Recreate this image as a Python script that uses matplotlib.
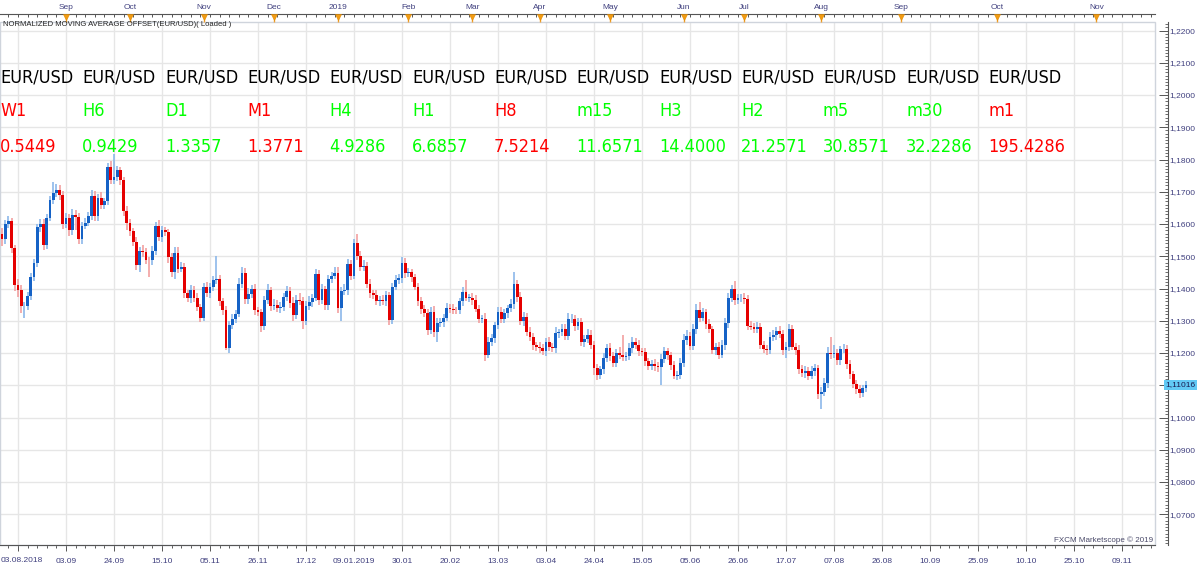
import matplotlib
matplotlib.use('Agg')
import matplotlib.pyplot as plt
import matplotlib.transforms as mtransforms
from matplotlib.patches import Rectangle
from matplotlib.ticker import MultipleLocator, FuncFormatter
import numpy as np

plt.rcParams['font.family'] = ['Liberation Sans', 'DejaVu Sans']

# EUR/USD daily bars 03.08.2018 .. 21.08.2019, one bar per trading day
first_open = 1.1595
closes = [
    1.1568, 1.1552, 1.1599, 1.1608, 1.1526, 1.1410, 1.1395, 1.1345, 1.1346, 1.1376,
    1.1437, 1.1478, 1.1590, 1.1600, 1.1535, 1.1620, 1.1676, 1.1695, 1.1707, 1.1690,
    1.1600, 1.1618, 1.1580, 1.1628, 1.1622, 1.1552, 1.1595, 1.1604, 1.1625, 1.1688,
    1.1624, 1.1680, 1.1660, 1.1670, 1.1776, 1.1735, 1.1746, 1.1766, 1.1735, 1.1640,
    1.1602, 1.1577, 1.1545, 1.1472, 1.1516, 1.1512, 1.1488, 1.1487, 1.1516, 1.1593,
    1.1560, 1.1580, 1.1575, 1.1497, 1.1450, 1.1510, 1.1462, 1.1466, 1.1385, 1.1370,
    1.1395, 1.1372, 1.1342, 1.1310, 1.1404, 1.1385, 1.1405, 1.1425, 1.1430, 1.1360,
    1.1332, 1.1215, 1.1286, 1.1306, 1.1322, 1.1415, 1.1448, 1.1367, 1.1384, 1.1399,
    1.1332, 1.1326, 1.1285, 1.1363, 1.1394, 1.1346, 1.1350, 1.1340, 1.1343, 1.1373,
    1.1392, 1.1355, 1.1318, 1.1365, 1.1362, 1.1300, 1.1345, 1.1358, 1.1372, 1.1444,
    1.1365, 1.1397, 1.1348, 1.1428, 1.1438, 1.1448, 1.1340, 1.1392, 1.1395, 1.1476,
    1.1440, 1.1540, 1.1500, 1.1468, 1.1470, 1.1414, 1.1386, 1.1380, 1.1360, 1.1364,
    1.1360, 1.1380, 1.1302, 1.1404, 1.1426, 1.1432, 1.1478, 1.1447, 1.1450, 1.1436,
    1.1406, 1.1360, 1.1335, 1.1325, 1.1272, 1.1326, 1.1265, 1.1293, 1.1296, 1.1310,
    1.1340, 1.1338, 1.1334, 1.1332, 1.1360, 1.1390, 1.1372, 1.1372, 1.1365, 1.1338,
    1.1307, 1.1307, 1.1195, 1.1235, 1.1246, 1.1287, 1.1328, 1.1306, 1.1325, 1.1340,
    1.1352, 1.1415, 1.1373, 1.1300, 1.1312, 1.1266, 1.1250, 1.1225, 1.1218, 1.1215,
    1.1206, 1.1235, 1.1220, 1.1216, 1.1262, 1.1264, 1.1275, 1.1254, 1.1304, 1.1305,
    1.1284, 1.1295, 1.1235, 1.1245, 1.1255, 1.1225, 1.1152, 1.1132, 1.1150, 1.1185,
    1.1215, 1.1190, 1.1170, 1.1200, 1.1195, 1.1188, 1.1190, 1.1215, 1.1235, 1.1225,
    1.1205, 1.1203, 1.1175, 1.1160, 1.1165, 1.1160, 1.1156, 1.1182, 1.1205, 1.1193,
    1.1162, 1.1130, 1.1132, 1.1170, 1.1240, 1.1252, 1.1222, 1.1275, 1.1334, 1.1310,
    1.1326, 1.1290, 1.1275, 1.1210, 1.1220, 1.1195, 1.1225, 1.1292, 1.1370, 1.1398,
    1.1365, 1.1370, 1.1372, 1.1368, 1.1285, 1.1282, 1.1276, 1.1282, 1.1225, 1.1214,
    1.1208, 1.1251, 1.1255, 1.1268, 1.1258, 1.1210, 1.1220, 1.1276, 1.1220, 1.1210,
    1.1150, 1.1138, 1.1145, 1.1130, 1.1145, 1.1152, 1.1072, 1.1080, 1.1108, 1.1201,
    1.1196, 1.1200, 1.1177, 1.1211, 1.1214, 1.1165, 1.1134, 1.1104, 1.1088, 1.1076,
    1.1090, 1.1102,
]
# wick lengths above / below the body, in pips
wick_up = [
    15, 20, 12, 18, 12, 10, 20, 15, 12, 14,
    12, 15, 10, 16, 15, 10, 12, 35, 18, 15,
    12, 15, 14, 18, 15, 12, 10, 14, 12, 16,
    15, 12, 18, 10, 12, 20, 70, 15, 12, 10,
    15, 12, 10, 14, 12, 20, 15, 10, 15, 12,
    20, 15, 12, 10, 14, 18, 20, 15, 12, 10,
    15, 12, 14, 10, 12, 15, 12, 14, 70, 12,
    10, 15, 12, 14, 10, 18, 20, 15, 18, 12,
    14, 10, 12, 15, 20, 12, 18, 14, 15, 12,
    16, 12, 18, 14, 22, 12, 15, 20, 12, 15,
    14, 18, 12, 15, 12, 20, 18, 14, 20, 15,
    12, 15, 30, 15, 18, 12, 15, 10, 14, 12,
    15, 12, 10, 14, 15, 12, 20, 18, 15, 12,
    10, 12, 14, 15, 10, 18, 20, 15, 12, 10,
    15, 12, 14, 10, 12, 15, 35, 12, 15, 14,
    12, 10, 18, 15, 12, 10, 15, 14, 12, 10,
    15, 35, 12, 15, 14, 12, 15, 12, 10, 15,
    14, 12, 15, 10, 18, 12, 15, 14, 20, 15,
    12, 14, 15, 12, 20, 15, 12, 15, 10, 14,
    12, 15, 12, 14, 18, 60, 12, 15, 14, 12,
    15, 12, 14, 10, 12, 15, 12, 14, 15, 12,
    10, 14, 12, 15, 18, 20, 14, 15, 18, 25,
    15, 12, 14, 10, 12, 15, 14, 18, 15, 14,
    25, 12, 10, 14, 12, 15, 12, 14, 10, 12,
    12, 14, 15, 12, 16, 12, 15, 14, 12, 10,
    15, 12, 14, 12, 15, 14, 12, 15, 14, 18,
    50, 25, 14, 12, 15, 12, 14, 10, 12, 14,
    12, 10,
]
wick_dn = [
    12, 20, 15, 12, 15, 18, 20, 22, 36, 14,
    12, 15, 12, 14, 15, 12, 10, 14, 12, 15,
    15, 12, 18, 15, 40, 15, 14, 12, 10, 12,
    14, 15, 12, 14, 10, 12, 10, 12, 14, 15,
    20, 15, 12, 14, 20, 15, 12, 50, 15, 12,
    14, 15, 12, 18, 15, 20, 14, 12, 15, 12,
    15, 14, 12, 15, 10, 12, 15, 14, 12, 15,
    14, 6, 15, 12, 14, 10, 12, 15, 14, 12,
    15, 12, 20, 14, 12, 15, 14, 12, 15, 12,
    12, 15, 18, 14, 12, 25, 14, 12, 15, 10,
    15, 12, 14, 15, 12, 10, 15, 40, 12, 15,
    14, 12, 12, 15, 14, 12, 15, 14, 12, 15,
    12, 14, 15, 12, 10, 12, 15, 14, 12, 15,
    12, 15, 14, 12, 15, 12, 14, 30, 12, 14,
    12, 15, 14, 12, 10, 15, 12, 14, 15, 12,
    15, 14, 20, 12, 14, 15, 12, 14, 12, 15,
    12, 15, 14, 12, 15, 14, 12, 15, 12, 14,
    12, 15, 14, 12, 15, 14, 12, 15, 14, 12,
    15, 14, 12, 15, 14, 12, 20, 15, 12, 14,
    12, 15, 14, 12, 15, 12, 14, 12, 15, 12,
    14, 12, 15, 14, 12, 15, 14, 55, 12, 15,
    14, 12, 15, 14, 12, 15, 14, 12, 15, 14,
    12, 15, 14, 12, 15, 14, 12, 15, 14, 12,
    15, 14, 12, 15, 14, 12, 15, 14, 12, 15,
    14, 12, 15, 14, 12, 15, 25, 14, 12, 15,
    14, 12, 15, 14, 12, 15, 14, 45, 12, 15,
    14, 12, 15, 14, 12, 15, 14, 12, 15, 14,
    12, 10,
]
last_price = 1.11016

# time axis labels (bar index); the first one names the start of the data
first_date = '03.08.2018'
date_ticks = [6, 21, 36, 51, 66, 81, 96, 111, 126, 141, 156, 171,
              186, 201, 216, 231, 246, 261, 276, 291, 306, 321, 336, 351]
date_labels = ['', '03.09', '24.09', '15.10', '05.11', '26.11', '17.12',
               '09.01.2019', '30.01', '20.02', '13.03', '03.04', '24.04', '15.05',
               '05.06', '26.06', '17.07', '07.08', '26.08', '10.09', '25.09',
               '10.10', '25.10', '09.11']
month_ticks = [21, 41, 64, 86, 106, 128, 148, 169, 191, 214, 233, 257, 282, 312, 343]
month_labels = ['Sep', 'Oct', 'Nov', 'Dec', '2019', 'Feb', 'Mar', 'Apr', 'May',
                'Jun', 'Jul', 'Aug', 'Sep', 'Oct', 'Nov']

# indicator panel
timeframes = ['W1', 'H6', 'D1', 'M1', 'H4', 'H1', 'H8', 'm15', 'H3', 'H2', 'm5', 'm30', 'm1']
offsets = ['0.5449', '0.9429', '1.3357', '1.3771', '4.9286', '6.6857', '7.5214',
           '11.6571', '14.4000', '21.2571', '30.8571', '32.2286', '195.4286']
rising = [False, True, True, False, True, True, False, True, True, True, True, True, False]

W, H = 1200, 568
fig = plt.figure(figsize=(W / 100, H / 100), dpi=100)
ax = fig.add_axes([0, 1 - 545 / H, 1155 / W, (545 - 22) / H])
ax.set_xlim(0.375, 361.3)
ax.set_ylim(1.06047, 1.22264)

c = np.array(closes)
o = np.concatenate([[first_open], c[:-1]])
idx = np.arange(len(c))
up = c >= o
hi = np.maximum(o, c) + np.array(wick_up) / 10000
lo = np.minimum(o, c) - np.array(wick_dn) / 10000
body_lo = np.minimum(o, c)
body_h = np.maximum(np.abs(c - o), 0.00012)

ax.vlines(idx[up], lo[up], hi[up], color='#8cb8ea', lw=1.2, zorder=2)
ax.vlines(idx[~up], lo[~up], hi[~up], color='#f2a0a0', lw=1.2, zorder=2)
ax.bar(idx[up], body_h[up], bottom=body_lo[up], width=0.85, color='#1562c6', lw=0, zorder=3)
ax.bar(idx[~up], body_h[~up], bottom=body_lo[~up], width=0.85, color='#e50000', lw=0, zorder=3)

# grid and axes
axis_col = '#555555'
lab_col = '#40407f'


def price_fmt(v, p):
    # the price tag covers the 1,1100 label
    if abs(v - 1.11) < 1e-6:
        return ''
    return f'{v:.4f}'.replace('.', ',')


ax.set_xticks(date_ticks, date_labels)
ax.xaxis.set_minor_locator(MultipleLocator(3))
ax.yaxis.set_major_locator(MultipleLocator(0.01))
ax.yaxis.set_minor_locator(MultipleLocator(0.001))
ax.yaxis.set_major_formatter(FuncFormatter(price_fmt))
ax.yaxis.tick_right()
ax.grid(True, which='major', color='#e6e6e6', lw=1)
ax.set_axisbelow(True)

for s in ['left', 'top']:
    ax.spines[s].set_visible(False)
ax.spines['right'].set_position(('outward', 9))
ax.spines['right'].set_color(axis_col)
ax.spines['bottom'].set_color(axis_col)
ax.tick_params(axis='x', which='major', direction='out', length=4.3, width=0.7,
               color=axis_col, labelsize=6, labelcolor=lab_col, pad=5)
ax.tick_params(axis='x', which='minor', direction='out', length=2.2, width=0.7, color=axis_col)
ax.tick_params(axis='y', which='major', direction='in', length=6.5, width=0.7,
               color=axis_col, labelsize=6, labelcolor=lab_col, pad=1.5)
ax.tick_params(axis='y', which='minor', direction='in', length=2.2, width=0.6, color=axis_col)

fig.text(1 / W, 1 - 561 / H, first_date, fontsize=6, color=lab_col, ha='left', va='center')

ax.add_patch(Rectangle((0, 0), 1, 1, transform=ax.transAxes, fill=False,
                       ec='#cfd4dc', lw=1, clip_on=False, zorder=1))

# month ruler on top
top_loc = 1 + 7.5 / 523
sec = ax.secondary_xaxis(top_loc)
sec.set_xticks(month_ticks, month_labels)
sec.xaxis.set_minor_locator(MultipleLocator(3))
sec.tick_params(which='major', length=0, pad=2.5, labelsize=6, labelcolor=lab_col)
sec.tick_params(which='minor', direction='in', length=2.5, width=0.7, color=axis_col)
sec.spines['top'].set_color(axis_col)

tr = mtransforms.blended_transform_factory(ax.transData, ax.transAxes)
ax.vlines(month_ticks, 1.0, top_loc - 3 / 523, color='#f0a030', lw=1, transform=tr,
          clip_on=False, zorder=5)
ax.plot(month_ticks, [top_loc - 2.5 / 523] * len(month_ticks), 'v', color='#f39c12',
        ms=4.5, mec='#e08a00', mew=0.4, transform=tr, clip_on=False, zorder=6)

# current price tag
tr_y = mtransforms.blended_transform_factory(ax.transAxes, ax.transData)
ax.text(1 + 10 / 1155, last_price, f'{last_price:.5f}'.replace('.', ','), transform=tr_y,
        ha='left', va='center', fontsize=6, color='#1a1a50', clip_on=False, zorder=7,
        bbox=dict(boxstyle='square,pad=0.18', fc='#62c9f5', ec='none'))

fig.text(3 / W, 1 - 25 / H, 'NORMALIZED MOVING AVERAGE OFFSET(EUR/USD)( Loaded )',
         fontsize=5.5, color='#222222', va='center', ha='left')
fig.text(1153 / W, 1 - 540 / H, 'FXCM Marketscope \u00a9 2019', fontsize=5.8,
         color='#4a4a6a', va='center', ha='right')

big_family = ['Liberation Sans Narrow', 'DejaVu Sans']
for k, (tf, val, r) in enumerate(zip(timeframes, offsets, rising)):
    x = round(k * 82.33) / W
    col = '#00ff00' if r else '#ff0000'
    fig.text(x, 1 - 77 / H, 'EUR/USD', fontsize=13, family=big_family,
             fontstretch='condensed', color='black', va='center', ha='left')
    fig.text(x, 1 - 111 / H, tf, fontsize=13, family=big_family,
             fontstretch='condensed', color=col, va='center', ha='left')
    fig.text(x, 1 - 147 / H, val, fontsize=13, family=big_family,
             fontstretch='condensed', color=col, va='center', ha='left')

fig.savefig('out.png', dpi=100, facecolor='white')
